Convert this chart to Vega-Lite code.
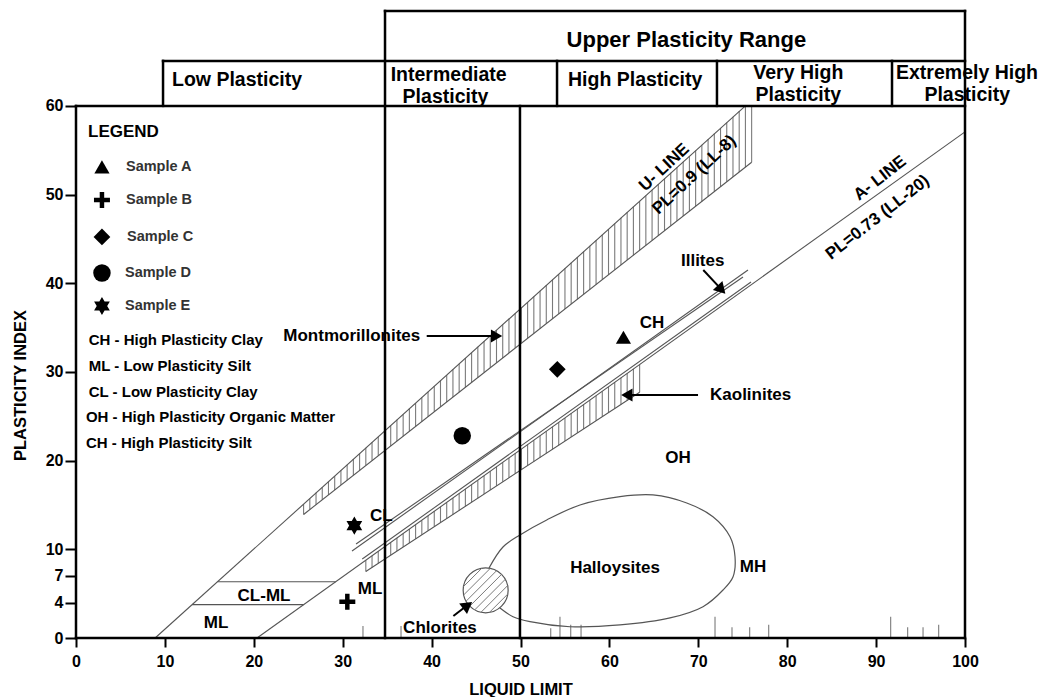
{
  "$schema": "https://vega.github.io/schema/vega-lite/v6.json",
  "width": 889,
  "height": 627,
  "autosize": {"type": "none"},
  "padding": {"left": 76, "right": 80, "top": 11, "bottom": 59},
  "background": "white",
  "config": {
    "view": {"stroke": null},
    "font": "Liberation Sans",
    "text": {"font": "Liberation Sans", "fontWeight": "bold", "baseline": "middle", "color": "black"}
  },
  "datasets": {
    "hatch": [
      {"x":25.6,"y":13.93,"y2":15.11},{"x":26.3,"y":14.48,"y2":15.74},{"x":27.0,"y":15.03,"y2":16.38},{"x":27.7,"y":15.58,"y2":17.01},
      {"x":28.4,"y":16.14,"y2":17.64},{"x":29.1,"y":16.69,"y2":18.27},{"x":29.8,"y":17.24,"y2":18.91},{"x":30.5,"y":17.79,"y2":19.54},
      {"x":31.2,"y":18.34,"y2":20.17},{"x":31.9,"y":18.89,"y2":20.81},{"x":32.6,"y":19.45,"y2":21.44},{"x":33.3,"y":20.0,"y2":22.07},
      {"x":34.0,"y":20.55,"y2":22.7},{"x":34.7,"y":21.1,"y2":23.34},{"x":35.4,"y":21.65,"y2":23.97},{"x":36.1,"y":22.2,"y2":24.6},
      {"x":36.8,"y":22.76,"y2":25.23},{"x":37.5,"y":23.31,"y2":25.87},{"x":38.2,"y":23.86,"y2":26.5},{"x":38.9,"y":24.41,"y2":27.13},
      {"x":39.6,"y":24.96,"y2":27.77},{"x":40.3,"y":25.51,"y2":28.4},{"x":41.0,"y":26.07,"y2":29.03},{"x":41.7,"y":26.62,"y2":29.66},
      {"x":42.4,"y":27.17,"y2":30.3},{"x":43.1,"y":27.72,"y2":30.93},{"x":43.8,"y":28.27,"y2":31.56},{"x":44.5,"y":28.82,"y2":32.2},
      {"x":45.2,"y":29.38,"y2":32.83},{"x":45.9,"y":29.93,"y2":33.46},{"x":46.6,"y":30.48,"y2":34.09},{"x":47.3,"y":31.03,"y2":34.73},
      {"x":48.0,"y":31.58,"y2":35.36},{"x":48.7,"y":32.13,"y2":35.99},{"x":49.4,"y":32.69,"y2":36.62},{"x":50.1,"y":33.24,"y2":37.26},
      {"x":50.8,"y":33.79,"y2":37.89},{"x":51.5,"y":34.34,"y2":38.52},{"x":52.2,"y":34.89,"y2":39.16},{"x":52.9,"y":35.44,"y2":39.79},
      {"x":53.6,"y":35.99,"y2":40.42},{"x":54.3,"y":36.55,"y2":41.05},{"x":55.0,"y":37.1,"y2":41.69},{"x":55.7,"y":37.65,"y2":42.32},
      {"x":56.4,"y":38.2,"y2":42.95},{"x":57.1,"y":38.75,"y2":43.59},{"x":57.8,"y":39.3,"y2":44.22},{"x":58.5,"y":39.86,"y2":44.85},
      {"x":59.2,"y":40.41,"y2":45.48},{"x":59.9,"y":40.96,"y2":46.12},{"x":60.6,"y":41.51,"y2":46.75},{"x":61.3,"y":42.06,"y2":47.38},
      {"x":62.0,"y":42.61,"y2":48.02},{"x":62.7,"y":43.17,"y2":48.65},{"x":63.4,"y":43.72,"y2":49.28},{"x":64.1,"y":44.27,"y2":49.91},
      {"x":64.8,"y":44.82,"y2":50.55},{"x":65.5,"y":45.37,"y2":51.18},{"x":66.2,"y":45.92,"y2":51.81},{"x":66.9,"y":46.48,"y2":52.45},
      {"x":67.6,"y":47.03,"y2":53.08},{"x":68.3,"y":47.58,"y2":53.71},{"x":69.0,"y":48.13,"y2":54.34},{"x":69.7,"y":48.68,"y2":54.98},
      {"x":70.4,"y":49.23,"y2":55.61},{"x":71.1,"y":49.79,"y2":56.24},{"x":71.8,"y":50.34,"y2":56.88},{"x":72.5,"y":50.89,"y2":57.51},
      {"x":73.2,"y":51.44,"y2":58.14},{"x":73.9,"y":51.99,"y2":58.77},{"x":74.6,"y":52.54,"y2":59.41},{"x":75.3,"y":53.1,"y2":60},
      {"x":76.0,"y":53.65,"y2":60},
      {"x":32.6,"y":7.5,"y2":8.77},{"x":33.3,"y":7.96,"y2":9.27},{"x":34.0,"y":8.42,"y2":9.77},{"x":34.7,"y":8.88,"y2":10.28},
      {"x":35.4,"y":9.34,"y2":10.78},{"x":36.1,"y":9.8,"y2":11.28},{"x":36.8,"y":10.26,"y2":11.78},{"x":37.5,"y":10.72,"y2":12.28},
      {"x":38.2,"y":11.18,"y2":12.78},{"x":38.9,"y":11.64,"y2":13.29},{"x":39.6,"y":12.1,"y2":13.79},{"x":40.3,"y":12.56,"y2":14.29},
      {"x":41.0,"y":13.01,"y2":14.79},{"x":41.7,"y":13.47,"y2":15.29},{"x":42.4,"y":13.93,"y2":15.79},{"x":43.1,"y":14.39,"y2":16.29},
      {"x":43.8,"y":14.85,"y2":16.8},{"x":44.5,"y":15.31,"y2":17.3},{"x":45.2,"y":15.77,"y2":17.8},{"x":45.9,"y":16.23,"y2":18.3},
      {"x":46.6,"y":16.69,"y2":18.8},{"x":47.3,"y":17.15,"y2":19.3},{"x":48.0,"y":17.61,"y2":19.81},{"x":48.7,"y":18.07,"y2":20.31},
      {"x":49.4,"y":18.53,"y2":20.81},{"x":50.1,"y":18.98,"y2":21.31},{"x":50.8,"y":19.44,"y2":21.81},{"x":51.5,"y":19.9,"y2":22.31},
      {"x":52.2,"y":20.36,"y2":22.82},{"x":52.9,"y":20.82,"y2":23.32},{"x":53.6,"y":21.28,"y2":23.82},{"x":54.3,"y":21.74,"y2":24.32},
      {"x":55.0,"y":22.2,"y2":24.82},{"x":55.7,"y":22.66,"y2":25.32},{"x":56.4,"y":23.12,"y2":25.83},{"x":57.1,"y":23.58,"y2":26.33},
      {"x":57.8,"y":24.04,"y2":26.83},{"x":58.5,"y":24.5,"y2":27.33},{"x":59.2,"y":24.96,"y2":27.83},{"x":59.9,"y":25.41,"y2":28.33},
      {"x":60.6,"y":25.87,"y2":28.83},{"x":61.3,"y":26.33,"y2":29.34},{"x":62.0,"y":26.79,"y2":29.84},{"x":62.7,"y":27.25,"y2":30.34},
      {"x":63.4,"y":27.71,"y2":30.84},
      {"x":32.28,"y":0,"y2":1.35},{"x":36.56,"y":0,"y2":1.35},{"x":53.4,"y":0,"y2":1.1},{"x":54.44,"y":0,"y2":2.4},
      {"x":55.65,"y":0,"y2":1.5},{"x":56.81,"y":0,"y2":1.5},{"x":71.88,"y":0,"y2":2.4},{"x":73.79,"y":0,"y2":1.2},
      {"x":75.78,"y":0,"y2":1.2},{"x":77.92,"y":0,"y2":1.5},{"x":91.64,"y":0,"y2":2.4},{"x":93.55,"y":0,"y2":1.2},
      {"x":95.28,"y":0,"y2":1.2},{"x":97.04,"y":0,"y2":1.5}
    ],
    "thin": [
      {"x":8.9,"y":0,"x2":75.3,"y2":60},
      {"x":20.36,"y":0,"x2":100,"y2":57.07},
      {"x":25.6,"y":13.93,"x2":76.0,"y2":53.65},
      {"x":32.6,"y":7.5,"x2":63.4,"y2":27.71},
      {"x":15.93,"y":6.35,"x2":29.22,"y2":6.35},
      {"x":13.06,"y":3.76,"x2":25.61,"y2":3.76},
      {"x":31.05,"y":9.81,"x2":75.59,"y2":41.5},
      {"x":31.5,"y":10.6,"x2":75.03,"y2":40.71},
      {"x":32.2,"y":8.9,"x2":75.93,"y2":40.15}
    ],
    "frame": [
      {"x":0,"y":0,"x2":100,"y2":0},
      {"x":0,"y":0,"x2":0,"y2":60},
      {"x":0,"y":60,"x2":100,"y2":60},
      {"x":100,"y":0,"x2":100,"y2":70.7},
      {"x":34.76,"y":0,"x2":34.76,"y2":70.7},
      {"x":49.94,"y":0,"x2":49.94,"y2":60},
      {"x":9.79,"y":65.07,"x2":100,"y2":65.07},
      {"x":34.76,"y":70.7,"x2":100,"y2":70.7},
      {"x":9.79,"y":60,"x2":9.79,"y2":65.07},
      {"x":54.11,"y":60,"x2":54.11,"y2":65.07},
      {"x":72.1,"y":60,"x2":72.1,"y2":65.07},
      {"x":91.79,"y":60,"x2":91.79,"y2":65.07}
    ],
    "halloysites": [
      {"o":1,"x":46.46,"y":7.89},{"o":2,"x":48.03,"y":10.26},{"o":3,"x":49.94,"y":11.62},{"o":4,"x":52.95,"y":13.31},
      {"o":5,"x":56.69,"y":15.0},{"o":6,"x":61.19,"y":15.94},{"o":7,"x":64.9,"y":16.13},{"o":8,"x":68.7,"y":15.22},
      {"o":9,"x":71.65,"y":13.68},{"o":10,"x":73.57,"y":11.42},{"o":11,"x":74.13,"y":9.17},{"o":12,"x":73.91,"y":6.91},
      {"o":13,"x":72.78,"y":5.41},{"o":14,"x":70.53,"y":3.53},{"o":15,"x":66.82,"y":2.26},{"o":16,"x":61.19,"y":1.47},
      {"o":17,"x":55.57,"y":1.27},{"o":18,"x":51.07,"y":1.84},{"o":19,"x":49.16,"y":2.4},{"o":20,"x":47.69,"y":3.38}
    ],
    "samples": [
      {"sample":"A","x":61.58,"y":33.91},
      {"sample":"B","x":30.52,"y":4.09},
      {"sample":"C","x":54.14,"y":30.3},
      {"sample":"D","x":43.45,"y":22.81},
      {"sample":"E","x":31.31,"y":12.67},
      {"sample":"A","x":2.92,"y":53.12},
      {"sample":"B","x":2.92,"y":49.4},
      {"sample":"C","x":2.92,"y":45.22},
      {"sample":"D","x":2.92,"y":41.16},
      {"sample":"E","x":2.92,"y":37.44}
    ],
    "arrows": [
      {"x":39.45,"y":34.06,"x2":46.79,"y2":34.06},
      {"x":69.97,"y":27.4,"x2":62.32,"y2":27.4},
      {"x":70.56,"y":41.5,"x2":72.33,"y2":39.59},
      {"x":42.45,"y":2.48,"x2":43.76,"y2":3.5}
    ]
  },
  "encoding": {
    "x": {
      "field": "x", "type": "quantitative",
      "scale": {"domain": [0, 100], "nice": false, "zero": false},
      "axis": {
        "values": [0,10,20,30,40,50,60,70,80,90,100],
        "title": "LIQUID LIMIT", "domain": false, "grid": false,
        "tickColor": "black", "tickWidth": 2, "tickSize": 9,
        "labelFont": "Liberation Sans", "labelFontWeight": "bold", "labelFontSize": 16, "labelColor": "black",
        "labelPadding": 6, "labelFlush": false, "labelOverlap": false,
        "titleFont": "Liberation Sans", "titleFontWeight": "bold", "titleFontSize": 16.5, "titleColor": "black",
        "titleY": 43, "titleBaseline": "top"
      }
    },
    "y": {
      "field": "y", "type": "quantitative",
      "scale": {"domain": [0, 70.7], "nice": false, "zero": false},
      "axis": {
        "values": [0,4,7,10,20,30,40,50,60],
        "title": "PLASTICITY INDEX", "domain": false, "grid": false,
        "tickColor": "black", "tickWidth": 2, "tickSize": 11,
        "labelFont": "Liberation Sans", "labelFontWeight": "bold", "labelFontSize": 16, "labelColor": "black",
        "labelPadding": 2, "labelFlush": false, "labelOverlap": false,
        "titleFont": "Liberation Sans", "titleFontWeight": "bold", "titleFontSize": 16.5, "titleColor": "black",
        "titleX": -56, "titleY": 374, "titleBaseline": "middle", "titleAlign": "center", "titleAngle": 270
      }
    }
  },
  "layer": [
    {
      "data": {"name": "hatch"},
      "mark": {"type": "rule", "color": "#7a7a7a", "strokeWidth": 1.1},
      "encoding": {"y2": {"field": "y2"}}
    },
    {
      "data": {"name": "thin"},
      "mark": {"type": "rule", "color": "#555555", "strokeWidth": 1.1},
      "encoding": {"x2": {"field": "x2"}, "y2": {"field": "y2"}}
    },
    {
      "data": {"name": "halloysites"},
      "mark": {"type": "line", "color": "#555555", "strokeWidth": 1.2, "interpolate": "catmull-rom"},
      "encoding": {"order": {"field": "o", "type": "quantitative"}}
    },
    {
      "data": {"values": [{"x": 46.08, "y": 5.38}]},
      "mark": {"type": "point", "shape": "circle", "size": 2025, "filled": false, "color": "#555555", "strokeWidth": 1.2, "opacity": 1}
    },
    {
      "data": {"values": [{"x": 46.08, "y": 5.38}]},
      "mark": {"type": "point", "shape": "M0.707,-0.707L-0.707,0.707M0.873,-0.488L-0.488,0.873M0.488,-0.873L-0.873,0.488M0.978,-0.208L-0.208,0.978M0.208,-0.978L-0.978,0.208M0.987,0.164L0.164,0.987M-0.164,-0.987L-0.987,-0.164", "size": 2025, "filled": false, "color": "#7a7a7a", "strokeWidth": 1, "opacity": 1}
    },
    {
      "data": {"name": "frame"},
      "mark": {"type": "rule", "color": "black", "strokeWidth": 2.5, "strokeCap": "square"},
      "encoding": {"x2": {"field": "x2"}, "y2": {"field": "y2"}}
    },
    {
      "data": {"name": "arrows"},
      "mark": {"type": "rule", "color": "black", "strokeWidth": 2},
      "encoding": {"x2": {"field": "x2"}, "y2": {"field": "y2"}}
    },
    {
      "data": {"values": [{"x": 47.31, "y": 34.06}]},
      "mark": {"type": "point", "shape": "triangle-right", "size": 170, "filled": true, "color": "black", "opacity": 1}
    },
    {
      "data": {"values": [{"x": 61.96, "y": 27.4}]},
      "mark": {"type": "point", "shape": "triangle-left", "size": 170, "filled": true, "color": "black", "opacity": 1}
    },
    {
      "data": {"values": [{"x": 72.61, "y": 39.29}]},
      "mark": {"type": "point", "shape": "triangle-right", "angle": 47, "size": 170, "filled": true, "color": "black", "opacity": 1}
    },
    {
      "data": {"values": [{"x": 44.05, "y": 3.68}]},
      "mark": {"type": "point", "shape": "triangle-right", "angle": -37, "size": 170, "filled": true, "color": "black", "opacity": 1}
    },
    {
      "data": {"name": "samples"},
      "mark": {"type": "point", "filled": true, "color": "black", "opacity": 1},
      "encoding": {
        "shape": {"field": "sample", "type": "nominal", "legend": null,
          "scale": {"domain": ["A","B","C","D","E"], "range": ["triangle-up", "M-1,-0.28L-0.28,-0.28L-0.28,-1L0.28,-1L0.28,-0.28L1,-0.28L1,0.28L0.28,0.28L0.28,1L-0.28,1L-0.28,0.28L-1,0.28Z", "diamond", "circle", "M0,-1L0.866,0.5L-0.866,0.5Z M0,1L-0.866,-0.5L0.866,-0.5Z"]}},
        "size": {"field": "sample", "type": "ordinal", "legend": null,
          "scale": {"domain": ["A","B","C","D","E"], "range": [230, 330, 300, 220, 340]}}
      }
    },
    {
      "data": {"values": [{"t": "Upper Plasticity Range", "x": 68.66, "y": 67.44}]},
      "mark": {"type": "text", "fontSize": 22, "align": "center"},
      "encoding": {"text": {"field": "t"}}
    },
    {
      "data": {"values": [
        {"t": "High Plasticity", "x": 62.9, "y": 62.93},
        {"t": "Very High", "x": 81.25, "y": 63.72},
        {"t": "Plasticity", "x": 81.25, "y": 61.24},
        {"t": "Plasticity", "x": 100.25, "y": 61.24}
      ]},
      "mark": {"type": "text", "fontSize": 19.5, "align": "center"},
      "encoding": {"text": {"field": "t"}}
    },
    {
      "data": {"values": [
        {"t": "Low Plasticity", "x": 10.8, "y": 62.93},
        {"t": "Intermediate", "x": 35.4, "y": 63.49},
        {"t": "Plasticity", "x": 36.74, "y": 61.05},
        {"t": "Extremely High", "x": 92.24, "y": 63.72}
      ]},
      "mark": {"type": "text", "fontSize": 19.5, "align": "left"},
      "encoding": {"text": {"field": "t"}}
    },
    {
      "data": {"values": [{"t": "LEGEND", "x": 1.35, "y": 57.06}]},
      "mark": {"type": "text", "fontSize": 17, "align": "left"},
      "encoding": {"text": {"field": "t"}}
    },
    {
      "data": {"values": [
        {"t": "Sample A", "x": 5.62, "y": 53.12},
        {"t": "Sample B", "x": 5.62, "y": 49.4},
        {"t": "Sample C", "x": 5.74, "y": 45.22},
        {"t": "Sample D", "x": 5.51, "y": 41.16},
        {"t": "Sample E", "x": 5.51, "y": 37.44}
      ]},
      "mark": {"type": "text", "fontSize": 14.5, "align": "left", "color": "#333333"},
      "encoding": {"text": {"field": "t"}}
    },
    {
      "data": {"values": [
        {"t": "CH - High Plasticity Clay", "x": 1.43, "y": 33.61},
        {"t": "ML - Low Plasticity Silt", "x": 1.43, "y": 30.68},
        {"t": "CL - Low Plasticity Clay", "x": 1.43, "y": 27.78},
        {"t": "OH - High Plasticity Organic Matter", "x": 1.12, "y": 24.92},
        {"t": "CH - High Plasticity Silt", "x": 1.12, "y": 22.03}
      ]},
      "mark": {"type": "text", "fontSize": 15, "align": "left"},
      "encoding": {"text": {"field": "t"}}
    },
    {
      "data": {"values": [
        {"t": "CH", "x": 64.79, "y": 35.52},
        {"t": "OH", "x": 67.72, "y": 20.3},
        {"t": "MH", "x": 76.15, "y": 8.01},
        {"t": "Halloysites", "x": 60.63, "y": 7.89},
        {"t": "ML", "x": 33.07, "y": 5.53},
        {"t": "CL-ML", "x": 21.15, "y": 4.74},
        {"t": "ML", "x": 15.75, "y": 1.69},
        {"t": "Chlorites", "x": 40.94, "y": 1.13}
      ]},
      "mark": {"type": "text", "fontSize": 17, "align": "center"},
      "encoding": {"text": {"field": "t"}}
    },
    {
      "data": {"values": [
        {"t": "Montmorillonites", "x": 23.32, "y": 34.06},
        {"t": "Kaolinites", "x": 71.32, "y": 27.4},
        {"t": "Illites", "x": 68.05, "y": 42.55},
        {"t": "CL", "x": 33.07, "y": 13.76}
      ]},
      "mark": {"type": "text", "fontSize": 17, "align": "left"},
      "encoding": {"text": {"field": "t"}}
    },
    {
      "data": {"values": [
        {"t": "U- LINE", "x": 66.16, "y": 53.06},
        {"t": "PL=0.9 (LL-8)", "x": 69.54, "y": 52.22}
      ]},
      "mark": {"type": "text", "fontSize": 17, "align": "center", "angle": -43},
      "encoding": {"text": {"field": "t"}}
    },
    {
      "data": {"values": [
        {"t": "A- LINE", "x": 90.44, "y": 51.84},
        {"t": "PL=0.73 (LL-20)", "x": 90.16, "y": 47.42}
      ]},
      "mark": {"type": "text", "fontSize": 17, "align": "center", "angle": -38},
      "encoding": {"text": {"field": "t"}}
    }
  ]
}
